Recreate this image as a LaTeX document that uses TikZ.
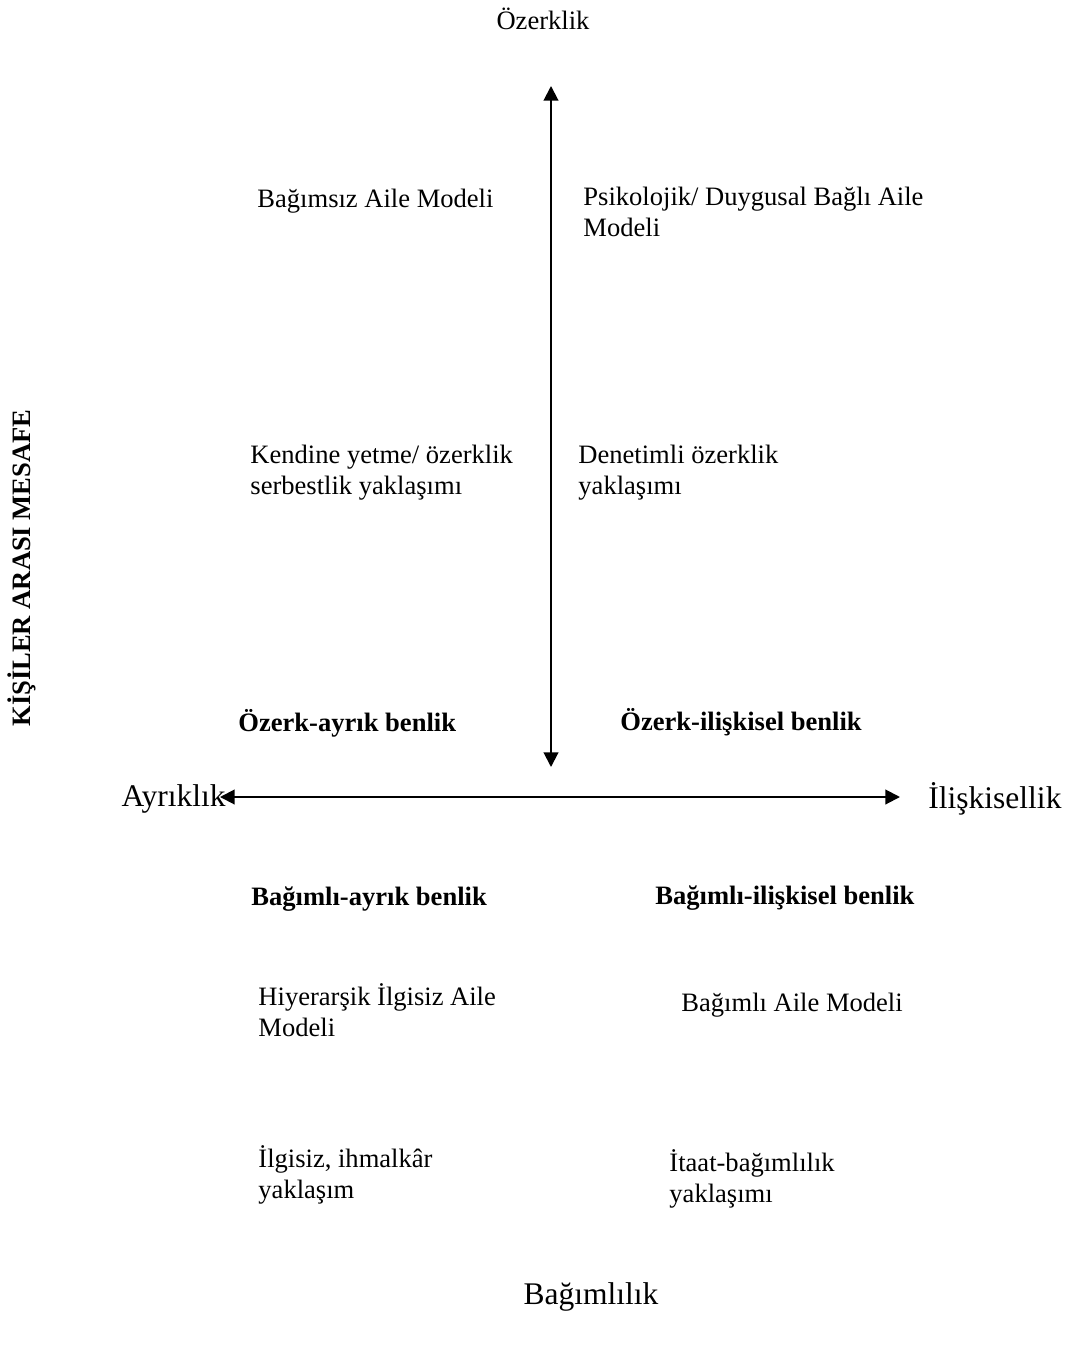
\documentclass[tikz,border=0pt]{standalone}
\usepackage{fontspec}
\setmainfont{Liberation Serif}
\usetikzlibrary{arrows.meta,positioning}

\tikzset{
	txt/.style={inner sep=0pt, align=left, anchor=west, font=\fontsize{11.8}{13.8}\selectfont},
	boldtxt/.style={txt, font=\fontsize{11.8}{13.8}\selectfont\bfseries},
	axistxt/.style={inner sep=0pt, font=\fontsize{14}{16}\selectfont},
	axis/.style={line width=0.9pt, {Triangle[length=6.5pt,width=6.5pt]}-{Triangle[length=6.5pt,width=6.5pt]}}
}

\begin{document}
\begin{tikzpicture}[x=0.4444pt, y=-0.4444pt]
			\useasboundingbox (0,0) rectangle (1073,1345);

			\coordinate (top)    at (551,86);
			\coordinate (bottom) at (551,767);
			\coordinate (left)   at (220,797);
			\coordinate (right)  at (900,797);

			\node[txt, anchor=center] (oz)  at (543,19)   {Özerklik};
			\node[axistxt, anchor=east] (ay)  at (226,799)  {Ayrıklık};
			\node[axistxt, anchor=west] (il)  at (928,799)  {İlişkisellik};
			\node[axistxt] (bag) at (591,1297) {Bağımlılık};
			\node[boldtxt, anchor=center, rotate=90] (kam) at (22,568) {KİŞİLER ARASI MESAFE};

			\node[txt] (bam)  at (257,201)  {Bağımsız Aile Modeli};
			\node[txt] (pdb)  at (583,212)  {Psikolojik/ Duygusal Bağlı Aile\\Modeli};
			\node[txt] (kye)  at (250,473)  {Kendine yetme/ özerklik\\serbestlik yaklaşımı};
			\node[txt] (doy)  at (578,473)  {Denetimli özerklik\\yaklaşımı};

			\node[boldtxt] (oab) at (238,723) {Özerk-ayrık benlik};
			\node[boldtxt] (oib) at (620,722) {Özerk-ilişkisel benlik};
			\node[boldtxt] (bab) at (251,899) {Bağımlı-ayrık benlik};
			\node[boldtxt] (bib) at (655,898) {Bağımlı-ilişkisel benlik};

			\node[txt] (hia)  at (258,1010) {Hiyerarşik İlgisiz Aile\\Modeli};
			\node[txt] (bamb) at (681,1005) {Bağımlı Aile Modeli};
			\node[txt] (iiy)  at (258,1175) {İlgisiz, ihmalkâr\\yaklaşım};
			\node[txt] (iby)  at (669,1179) {İtaat-bağımlılık\\yaklaşımı};

			\draw[axis] (bottom) -- (top);
			\draw[axis] (left) -- (right);
		\end{tikzpicture}
\end{document}
